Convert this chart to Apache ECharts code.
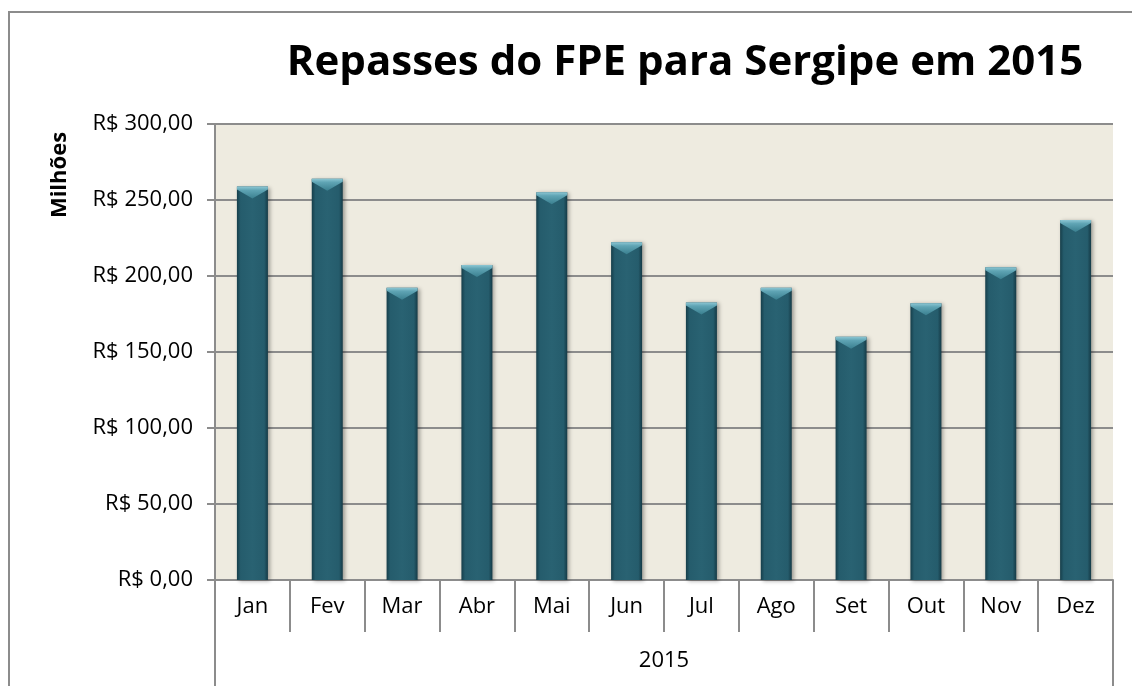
<!DOCTYPE html>
<html>
<head>
<meta charset="utf-8">
<script src="https://cdn.jsdelivr.net/npm/echarts@6/dist/echarts.min.js"></script>
<style>
  html, body { margin: 0; padding: 0; background: #fff; }
  #chart { width: 1132px; height: 686px; }
</style>
</head>
<body>
<div id="chart"></div>
<script>
var months = ['Jan', 'Fev', 'Mar', 'Abr', 'Mai', 'Jun', 'Jul', 'Ago', 'Set', 'Out', 'Nov', 'Dez'];
var years = ['2015'];
var repasses = [258.8, 264.0, 192.3, 207.2, 255.1, 222.2, 182.6, 192.3, 160.0, 182.0, 205.7, 236.8];
var yTicks = [0, 50, 100, 150, 200, 250, 300];

var fonte = '"Open Sans", "Liberation Sans", sans-serif';
var cinza = '#8c8c8c';

function moeda(v) {
    return 'R$ ' + v.toFixed(2).replace('.', ',');
}

var myChart = echarts.init(document.getElementById('chart'));

var option = {
    backgroundColor: '#fff',
    animation: false,
    title: {
        text: 'Repasses do FPE para Sergipe em 2015',
        left: 680,
        textAlign: 'center',
        top: 37,
        textStyle: { fontFamily: fonte, fontWeight: 'bold', fontSize: 42, color: '#000' }
    },
    graphic: [{
        type: 'rect',
        shape: { x: 9, y: 12, width: 1300, height: 900 },
        style: { fill: null, stroke: cinza, lineWidth: 2 },
        silent: true
    }, {
        type: 'text',
        x: 60,
        y: 175,
        rotation: Math.PI / 2,
        style: {
            text: 'Milhões',
            align: 'center',
            verticalAlign: 'middle',
            font: 'bold 22px ' + fonte,
            fill: '#000'
        }
    }],
    grid: {
        left: 215,
        right: 19,
        top: 124,
        bottom: 106,
        show: true,
        backgroundColor: '#eeebe0',
        borderWidth: 0
    },
    xAxis: [{
        type: 'category',
        data: months,
        position: 'bottom',
        axisLine: { show: true, lineStyle: { color: cinza, width: 2 } },
        axisTick: { show: true, interval: 0, length: 52, lineStyle: { color: cinza, width: 2 } },
        axisLabel: { margin: 16, fontFamily: fonte, fontSize: 22, color: '#000' }
    }, {
        type: 'category',
        data: years,
        position: 'bottom',
        axisLine: { show: false },
        axisTick: { show: true, interval: 0, length: 106, lineStyle: { color: cinza, width: 2 } },
        axisLabel: { margin: 70, fontFamily: fonte, fontSize: 22, color: '#000' }
    }],
    yAxis: {
        type: 'value',
        min: yTicks[0],
        max: yTicks[yTicks.length - 1],
        interval: 50,
        axisLine: { show: true, lineStyle: { color: cinza, width: 2 } },
        axisTick: { show: true, length: 8, lineStyle: { color: cinza, width: 2 } },
        splitLine: { lineStyle: { color: cinza, width: 2 } },
        axisLabel: { margin: 22, formatter: moeda, fontFamily: fonte, fontSize: 22, color: '#000' }
    },
    series: [{
        type: 'bar',
        data: repasses,
        barWidth: 31,
        z: 2,
        itemStyle: {
            color: new echarts.graphic.LinearGradient(0, 0, 1, 0, [
                { offset: 0, color: '#163e4a' },
                { offset: 0.12, color: '#255c6c' },
                { offset: 0.5, color: '#296272' },
                { offset: 0.88, color: '#255c6c' },
                { offset: 1, color: '#153a46' }
            ]),
            shadowColor: 'rgba(0,0,0,0.35)',
            shadowBlur: 4,
            shadowOffsetX: 2,
            shadowOffsetY: 1
        }
    }, {
        // chanfro do topo
        type: 'pictorialBar',
        data: repasses,
        symbol: 'path://M0,0 L31,0 L31,3 L15.5,12 L0,3 Z',
        symbolSize: [31, 12],
        symbolPosition: 'end',
        symbolOffset: [0, 0],
        z: 3,
        itemStyle: {
            color: new echarts.graphic.LinearGradient(0, 0, 0, 1, [
                { offset: 0, color: '#8cc6d3' },
                { offset: 0.3, color: '#5fa4b4' },
                { offset: 1, color: '#3a7f8f' }
            ])
        }
    }]
};

myChart.setOption(option);
</script>
</body>
</html>
